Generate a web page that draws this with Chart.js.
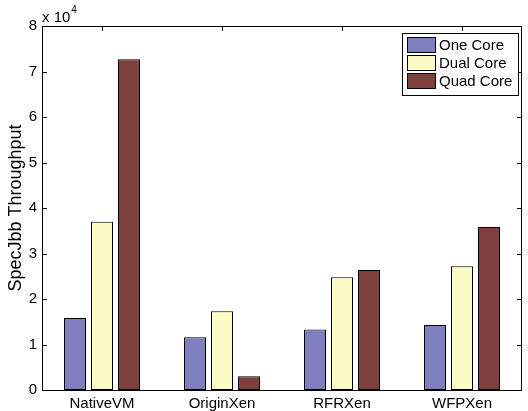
<!DOCTYPE html>
<html>
<head>
<meta charset="utf-8">
<script src="https://cdn.jsdelivr.net/npm/chart.js@4/dist/chart.umd.min.js"></script>
<style>
html,body{margin:0;padding:0;background:#fff;}
#wrap{width:528px;height:411px;}
</style>
</head>
<body>
<div id="wrap"><canvas id="c" width="528" height="411"></canvas></div>
<script>
const categories = ["NativeVM", "OriginXen", "RFRXen", "WFPXen"];
const seriesNames = ["One Core", "Dual Core", "Quad Core"];
const oneCore = [15800, 11600, 13300, 14300];
const dualCore = [37000, 17300, 24800, 27200];
const quadCore = [72700, 3000, 26400, 35800];
const yTicks = [0, 10000, 20000, 30000, 40000, 50000, 60000, 70000, 80000];
const colors = ["#7f7fbf", "#fbfbc3", "#7f3f3f"];
const FONT = "'Liberation Sans', Arial, Helvetica, sans-serif";

const framePlugin = {
  id: 'frame',
  beforeDatasetsDraw(chart) {
    const ctx = chart.ctx, a = chart.chartArea;
    const ys = chart.scales.y, xs = chart.scales.x;
    ctx.save();
    ctx.strokeStyle = '#000';
    ctx.lineWidth = 1;
    ctx.beginPath();
    yTicks.forEach(v => {
      const py = Math.round(ys.getPixelForValue(v)) + 0.5;
      ctx.moveTo(a.left, py); ctx.lineTo(a.left + 5, py);
      ctx.moveTo(a.right, py); ctx.lineTo(a.right - 5, py);
    });
    categories.forEach((c, i) => {
      const px = Math.round(xs.getPixelForValue(i)) + 0.5;
      ctx.moveTo(px, a.top); ctx.lineTo(px, a.top + 5);
      ctx.moveTo(px, a.bottom); ctx.lineTo(px, a.bottom - 5);
    });
    ctx.stroke();
    ctx.restore();
  },
  afterDraw(chart) {
    const ctx = chart.ctx, a = chart.chartArea;
    ctx.save();
    ctx.strokeStyle = '#000';
    ctx.lineWidth = 1;
    ctx.strokeRect(Math.round(a.left) + 0.5, Math.round(a.top) + 0.5,
      Math.round(a.right - a.left) - 1, Math.round(a.bottom - a.top));
    // exponent label
    ctx.fillStyle = '#000';
    ctx.textBaseline = 'alphabetic';
    ctx.textAlign = 'left';
    ctx.font = "15px " + FONT;
    ctx.fillText("x 10", a.left, 22);
    const w = ctx.measureText("x 10").width;
    ctx.font = "10px " + FONT;
    ctx.fillText("4", a.left + w + 1, 13);
    // legend
    const lx = 402, ly = 33, lw = 116, lh = 62;
    ctx.fillStyle = '#fff';
    ctx.fillRect(lx, ly, lw, lh);
    ctx.strokeRect(lx + 0.5, ly + 0.5, lw, lh);
    ctx.font = "15px " + FONT;
    ctx.textBaseline = 'middle';
    chart.data.datasets.forEach((ds, i) => {
      const sy = 37.5 + i * 18;
      ctx.fillStyle = ds.backgroundColor;
      ctx.fillRect(407.5, sy, 28, 15);
      ctx.strokeStyle = '#000';
      ctx.strokeRect(407.5, sy, 28, 15);
      ctx.fillStyle = '#000';
      ctx.fillText(ds.label, 439, sy + 8);
    });
    ctx.restore();
  }
};

new Chart(document.getElementById('c'), {
  type: 'bar',
  data: {
    labels: categories,
    datasets: [
      { label: seriesNames[0], data: oneCore, backgroundColor: colors[0] },
      { label: seriesNames[1], data: dualCore, backgroundColor: colors[1] },
      { label: seriesNames[2], data: quadCore, backgroundColor: colors[2] }
    ].map(d => Object.assign(d, { borderColor: '#000', borderWidth: 1, borderSkipped: false,
      categoryPercentage: 0.675, barPercentage: 22 / 27 }))
  },
  options: {
    responsive: false,
    animation: false,
    devicePixelRatio: 1,
    layout: { padding: { top: 26, right: 6, left: 0, bottom: 0 } },
    plugins: { legend: { display: false }, tooltip: { enabled: false } },
    scales: {
      x: {
        grid: { display: false, drawTicks: false },
        border: { display: false },
        ticks: { color: '#000', font: { family: FONT, size: 15 }, padding: 5, maxRotation: 0 },
        afterFit(s) { s.height = 21; }
      },
      y: {
        min: 0, max: 80000,
        afterBuildTicks(s) { s.ticks = yTicks.map(v => ({ value: v })); },
        grid: { display: false, drawTicks: false },
        border: { display: false },
        ticks: { color: '#000', font: { family: FONT, size: 15 }, padding: 5,
          callback: v => String(v / 10000) },
        title: { display: true, text: 'SpecJbb Throughput', color: '#000',
          font: { family: FONT, size: 18 }, padding: { top: 5, bottom: 0 } },
        afterFit(s) { s.width = 42; }
      }
    }
  },
  plugins: [framePlugin]
});
</script>
</body>
</html>
